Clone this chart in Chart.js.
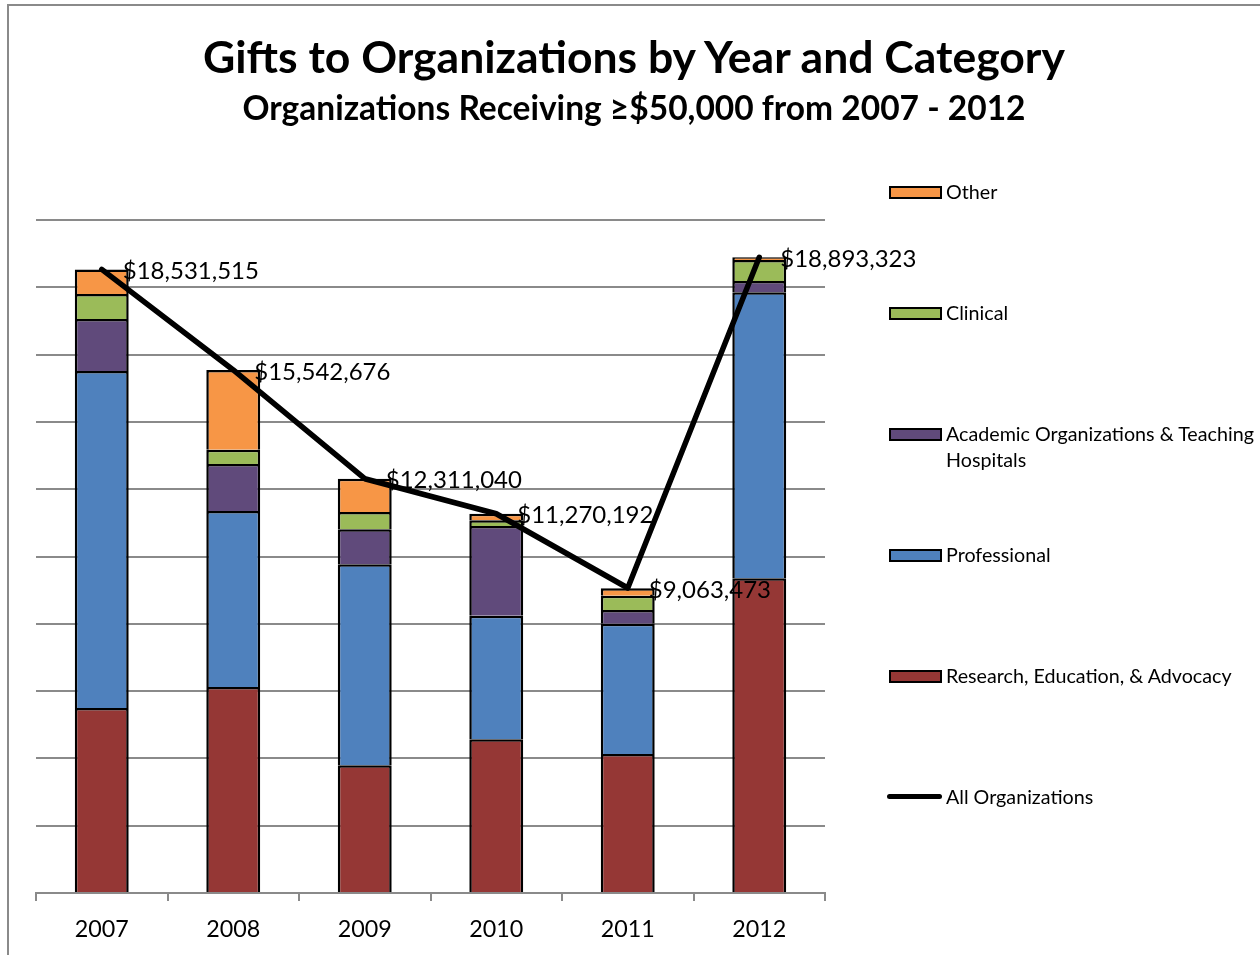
<!DOCTYPE html>
<html>
<head>
<meta charset="utf-8">
<script src="https://cdn.jsdelivr.net/npm/chart.js@4"></script>
<style>
  body { margin: 0; background: #fff; font-family: Lato, "Noto Sans", sans-serif; }
  #wrap { position: relative; width: 1260px; height: 955px; overflow: hidden; }
  #frame { position: absolute; left: 7px; top: 4px; width: 1300px; height: 1000px; border: 2px solid #8a8a8a; box-sizing: border-box; }
  #chart { position: absolute; left: 0; top: 0; }
  .title { position: absolute; left: 0; width: 1268px; text-align: center; font-weight: bold; color: #000; }
  #t1 { top: 29px; font-size: 44.5px; }
  #t2 { top: 87px; font-size: 33.5px; }
  #legend { position: absolute; left: 887px; top: 0; }
  .item { position: absolute; left: 0; white-space: nowrap; font-size: 19.7px; line-height: 26px; }
  .sw { position: absolute; left: 2px; width: 49px; height: 9px; border: 2px solid #000; }
  .ln { position: absolute; left: 0; width: 55px; height: 5px; border-radius: 3px; background: #000; }
  .txt { position: absolute; left: 59px; top: -13px; }
</style>
</head>
<body>
<div id="wrap">
  <div id="frame"></div>
  <canvas id="chart" width="1260" height="955"></canvas>
  <div class="title" id="t1">Gifts to Organizations by Year and Category</div>
  <div class="title" id="t2">Organizations Receiving ≥$50,000 from 2007 - 2012</div>
  <div id="legend"></div>
</div>
<script>
// values (dollars)
var years = ['2007', '2008', '2009', '2010', '2011', '2012'];
var research = [5500000, 6120000, 3800000, 4570000, 4130000, 9350000];
var professional = [10010000, 5230000, 5970000, 3670000, 3870000, 8500000];
var academic = [1550000, 1400000, 1040000, 2670000, 410000, 340000];
var clinical = [740000, 420000, 510000, 170000, 420000, 620000];
var other = [730000, 2370000, 990000, 190000, 230000, 80000];
var totals = [18531515, 15542676, 12311040, 11270192, 9063473, 18893323];

function barSet(label, data, color) {
    return {
        type: 'bar', label: label, data: data, backgroundColor: color,
        borderColor: '#000', borderWidth: 2.5, stack: 'cats', order: 1,
        categoryPercentage: 1, barPercentage: 0.41
    };
}

var datasets = [
    barSet('Research, Education, & Advocacy', research, '#953735'),
    barSet('Professional', professional, '#4F81BD'),
    barSet('Academic Organizations & Teaching Hospitals', academic, '#604A7B'),
    barSet('Clinical', clinical, '#9BBB59'),
    barSet('Other', other, '#F79646'),
    {
        type: 'line', label: 'All Organizations', data: totals, stack: 'total', order: 0,
        borderColor: '#000', borderWidth: 5.5, pointRadius: 0, tension: 0,
        borderCapStyle: 'round', borderJoinStyle: 'round', fill: false
    }
];

// labels next to each point of the total line
var totalLabels = {
    id: 'totalLabels',
    afterDatasetsDraw: function(chart) {
        var ctx = chart.ctx;
        var meta = chart.getDatasetMeta(5);
        ctx.save();
        ctx.font = '24px Lato, "Noto Sans", sans-serif';
        ctx.fillStyle = '#000';
        ctx.textBaseline = 'middle';
        ctx.textAlign = 'left';
        meta.data.forEach(function(pt, i) {
            ctx.fillText('$' + totals[i].toLocaleString('en-US'), pt.x + 21, pt.y + 2);
        });
        ctx.restore();
    }
};

var ctx = document.getElementById('chart').getContext('2d');
var myChart = new Chart(ctx, {
    type: 'bar',
    data: { labels: years, datasets: datasets },
    options: {
        responsive: false,
        animation: false,
        layout: { padding: { left: 36, right: 435, top: 220, bottom: 0 } },
        plugins: { legend: { display: false }, title: { display: false }, tooltip: { enabled: false } },
        scales: {
            x: {
                stacked: true,
                grid: { offset: true, drawOnChartArea: false, color: '#8a8a8a', lineWidth: 2, tickLength: 8 },
                border: { color: '#8a8a8a', width: 2 },
                ticks: { color: '#000', font: { family: 'Lato', size: 23.3 }, padding: 14 },
                afterFit: function(scale) { scale.height = 62; }
            },
            y: {
                stacked: true,
                min: 0, max: 20000000,
                ticks: { display: false, stepSize: 2000000 },
                grid: { color: '#8a8a8a', lineWidth: 2, drawTicks: false },
                border: { display: false },
                afterFit: function(scale) { scale.width = 0; }
            }
        }
    },
    plugins: [totalLabels]
});

// legend on the right, built from the datasets
var legendRows = [
    { ds: 4, y: 192 }, { ds: 3, y: 313 }, { ds: 2, y: 434 },
    { ds: 1, y: 555 }, { ds: 0, y: 676 }, { ds: 5, y: 797 }
];
var legend = document.getElementById('legend');
legendRows.forEach(function(row) {
    var d = datasets[row.ds];
    var item = document.createElement('div');
    item.className = 'item';
    item.style.top = row.y + 'px';
    var mark = document.createElement('div');
    if (d.type === 'line') {
        mark.className = 'ln';
        mark.style.top = '-3px';
    } else {
        mark.className = 'sw';
        mark.style.top = '-6px';
        mark.style.background = d.backgroundColor;
    }
    var txt = document.createElement('div');
    txt.className = 'txt';
    txt.innerHTML = d.label === 'Academic Organizations & Teaching Hospitals'
        ? 'Academic Organizations &amp; Teaching<br>Hospitals' : d.label.replace('&', '&amp;');
    item.appendChild(mark);
    item.appendChild(txt);
    legend.appendChild(item);
});
</script>
</body>
</html>
